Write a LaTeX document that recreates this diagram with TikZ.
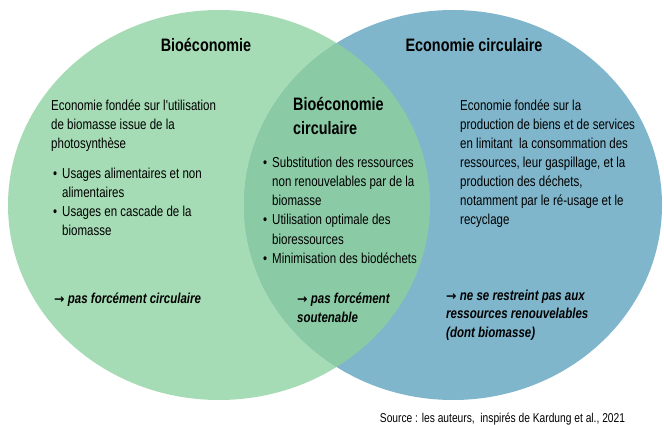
\documentclass[tikz,border=0pt]{standalone}
\usepackage{fontspec}
\newfontfamily\nf{Liberation Sans}[FakeStretch=0.8]
\newfontfamily\arrf{DejaVu Sans}
\newcommand{\rarr}{{\arrf\bfseries\fontsize{12.5}{19}\selectfont →}}
\definecolor{bioG}{HTML}{A6DCB5}
\definecolor{circB}{HTML}{7FB6CB}
\definecolor{lensG}{HTML}{8ACBA6}
\begin{document}
\begin{tikzpicture}[x=1pt,y=-1pt,
 title/.style={font=\nf\bfseries\fontsize{18}{24}\selectfont, inner sep=0pt, anchor=base},
 body/.style={font=\nf\fontsize{14.4}{19}\selectfont, align=left, inner sep=0pt, anchor=north west},
 note/.style={font=\nf\bfseries\itshape\fontsize{14.4}{19}\selectfont, align=left, inner sep=0pt, anchor=north west},
 src/.style={font=\nf\fontsize{12.8}{15}\selectfont, inner sep=0pt, anchor=base}]
\useasboundingbox (0,0) rectangle (664,425);
\fill[white] (0,0) rectangle (664,425);
\fill[bioG] (219,205) ellipse [x radius=211pt, y radius=195pt];
\fill[circB] (453,205) ellipse [x radius=209pt, y radius=195pt];
\begin{scope}
\clip (219,205) ellipse [x radius=211pt, y radius=195pt];
\fill[lensG] (453,205) ellipse [x radius=209pt, y radius=195pt];
\end{scope}
% titles
\node[title] (tL) at (206,51.5) {Bioéconomie};
\node[title] (tR) at (474,51.5) {Economie circulaire};
\node[title, anchor=north west, align=left] (tM) at (293,93.2) {\strut Bioéconomie\\circulaire};
% left
\node[body] (bL) at (51,96.7) {\strut Economie fondée sur l'utilisation\\de biomasse issue de la\\photosynthèse};
\node[body] (uL) at (53,164.7) {\strut\makebox[9pt][l]{•}Usages alimentaires et non\\\hspace*{9pt}alimentaires\\\makebox[9pt][l]{•}Usages en cascade de la\\\hspace*{9pt}biomasse};
\node[note] (nL) at (54,289.7) {\strut\rarr\ pas forcément circulaire};
% middle
\node[body, font=\nf\fontsize{14.4}{19.2}\selectfont] (uM) at (263,153.6) {\strut\makebox[9pt][l]{•}Substitution des ressources\\\hspace*{9pt}non renouvelables par de la\\\hspace*{9pt}biomasse\\\makebox[9pt][l]{•}Utilisation optimale des\\\hspace*{9pt}bioressources\\\makebox[9pt][l]{•}Minimisation des biodéchets};
\node[note] (nM) at (297,289.7) {\strut\rarr\ pas forcément\\soutenable};
% right
\node[body] (bR) at (460,96.7) {\strut Economie fondée sur la\\production de biens et de services\\en limitant\ \ la consommation des\\ressources, leur gaspillage, et la\\production des déchets,\\notamment par le ré-usage et le\\recyclage};
\node[note, font=\nf\bfseries\itshape\fontsize{14.4}{18.5}\selectfont] (nR) at (446,287) {\strut\rarr\ ne se restreint pas aux\\ressources renouvelables\\(dont biomasse)};
% source
\node[src] (s) at (502.5,422) {Source : les auteurs,\ \ inspirés de Kardung et al., 2021};
\end{tikzpicture}
\end{document}
